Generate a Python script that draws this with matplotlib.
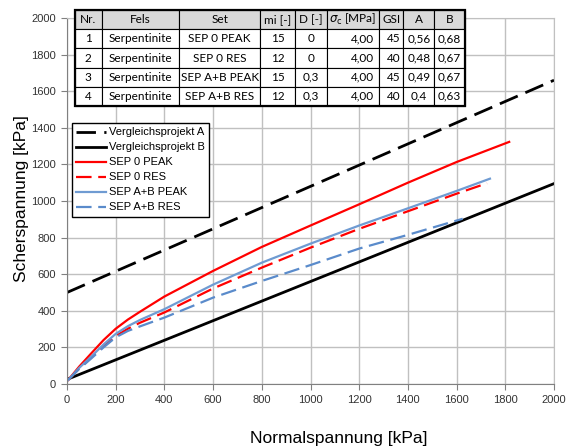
import matplotlib
matplotlib.use("Agg")
import matplotlib.pyplot as plt
from matplotlib.patches import Rectangle

plt.rcParams['font.family'] = ['Liberation Sans', 'DejaVu Sans']

# Vergleichsprojekte (Geraden)
x_a = [0, 2000]
y_a = [500, 1660]
x_b = [0, 2000]
y_b = [25, 1095]

# Hoek-Brown Kurven
x_sep0_peak = [5, 50, 100, 150, 200, 250, 300, 400, 600, 800, 1000, 1200, 1400, 1600, 1816]
y_sep0_peak = [22, 95, 168, 240, 302, 352, 395, 478, 618, 749, 866, 982, 1100, 1213, 1323]

x_sep0_res = [5, 50, 100, 150, 200, 250, 300, 400, 600, 800, 1000, 1200, 1400, 1600, 1725]
y_sep0_res = [22, 85, 145, 207, 262, 302, 335, 391, 522, 636, 745, 848, 944, 1040, 1097]

x_sepab_peak = [5, 50, 100, 150, 200, 250, 300, 400, 600, 800, 1000, 1200, 1400, 1600, 1737]
y_sepab_peak = [22, 88, 150, 216, 274, 316, 350, 409, 543, 663, 767, 866, 960, 1055, 1122]

x_sepab_res = [5, 50, 100, 150, 200, 250, 300, 400, 600, 800, 1000, 1200, 1400, 1625]
y_sepab_res = [22, 82, 140, 200, 255, 290, 315, 363, 472, 563, 650, 740, 815, 903]

ticks = [0, 200, 400, 600, 800, 1000, 1200, 1400, 1600, 1800, 2000]

# Tabelle
col_labels = ['Nr.', 'Fels', 'Set', 'mi [-]', 'D [-]', r'$\sigma_\mathrm{c}$ [MPa]', 'GSI', 'A', 'B']
table_rows = [
    ['1', 'Serpentinite', 'SEP 0 PEAK', '15', '0', '4,00', '45', '0,56', '0,68'],
    ['2', 'Serpentinite', 'SEP 0 RES', '12', '0', '4,00', '40', '0,48', '0,67'],
    ['3', 'Serpentinite', 'SEP A+B PEAK', '15', '0,3', '4,00', '45', '0,49', '0,67'],
    ['4', 'Serpentinite', 'SEP A+B RES', '12', '0,3', '4,00', '40', '0,4', '0,63'],
]
col_widths = [26.7, 77.6, 80.7, 35, 31.7, 52.3, 24.3, 31, 30.7]

fig = plt.figure(figsize=(5.67, 4.47), dpi=100)
ax = fig.add_axes([67/567, 1-384/447, 487/567, 366/447])

dash = (0, (7, 3))
ax.plot(x_a, y_a, color='black', lw=2, linestyle=dash, label='Vergleichsprojekt A')
ax.plot(x_b, y_b, color='black', lw=2, label='Vergleichsprojekt B')
ax.plot(x_sep0_peak, y_sep0_peak, color='#ff0000', lw=1.6, label='SEP 0 PEAK')
ax.plot(x_sep0_res, y_sep0_res, color='#ff0000', lw=1.6, linestyle=dash, label='SEP 0 RES')
ax.plot(x_sepab_peak, y_sepab_peak, color='#6f9bd2', lw=1.6, label='SEP A+B PEAK')
ax.plot(x_sepab_res, y_sepab_res, color='#5a8bcb', lw=1.6, linestyle=dash, label='SEP A+B RES')

ax.set_xlim(0, 2000)
ax.set_ylim(0, 2000)
ax.set_xticks(ticks)
ax.set_yticks(ticks)
ax.grid(True, color='#c0c0c0', lw=1)
ax.set_axisbelow(True)
ax.tick_params(labelsize=8, labelcolor='#333333', length=4, color='#808080', pad=4)
for s in ['top', 'right']:
    ax.spines[s].set_color('#c0c0c0')
for s in ['left', 'bottom']:
    ax.spines[s].set_color('#808080')

leg = ax.legend(loc='upper left', bbox_to_anchor=(0.01, 0.713), borderaxespad=0,
                fontsize=8, fancybox=False, edgecolor='black', framealpha=1,
                handlelength=2.7, labelspacing=0.45, handletextpad=0.2, borderpad=0.4)
leg.get_frame().set_linewidth(1)

fig.text(22/567, 1-199/447, 'Scherspannung [kPa]', rotation=90, ha='center', va='center', fontsize=12.5)
fig.text(339/567, 1-439/447, 'Normalspannung [kPa]', ha='center', va='center', fontsize=12.5)

# Tabelle zeichnen
tx0 = (75-67)/487
tx1 = (465-67)/487
ty1 = (384-10)/366
ty0 = (384-106)/366
total = sum(col_widths)
tab = ax.table(cellText=table_rows, colLabels=col_labels,
               colWidths=[w/total for w in col_widths],
               bbox=[tx0, ty0, tx1-tx0, ty1-ty0], cellLoc='center')
tab.auto_set_font_size(False)
tab.set_fontsize(8.5)
tab.set_zorder(10)
for (r, c), cell in tab.get_celld().items():
    cell.set_edgecolor('black')
    cell.set_linewidth(0.8)
    cell.get_text().set_fontfamily(['Lato', 'DejaVu Sans'])
    if r == 0:
        cell.set_facecolor('#d9d9d9')
    else:
        cell.set_facecolor('white')
        if c in (5, 6):
            cell.get_text().set_ha('right')
            cell._loc = 'right'
rect = Rectangle((tx0, ty0), tx1-tx0, ty1-ty0, transform=ax.transAxes, fill=False,
                 edgecolor='black', lw=1.6, zorder=11, clip_on=False)
ax.add_patch(rect)

fig.savefig('out.png', dpi=100)
